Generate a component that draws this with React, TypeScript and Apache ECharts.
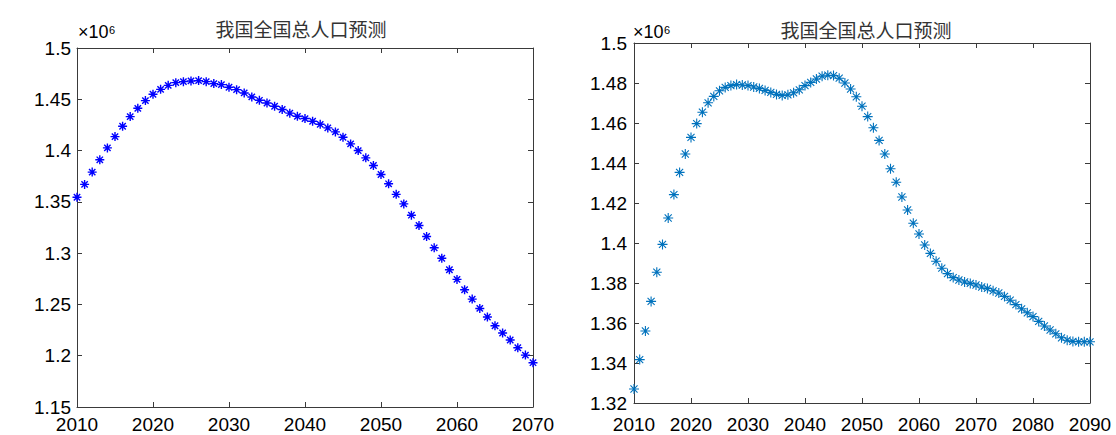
import React, { useEffect, useRef } from "react";
import * as echarts from "echarts";

const TITLE = "我国全国总人口预测";
const SCALE_BASE = "×10";
const SCALE_EXP = "6";

// left panel: yearly values (×10^6), starting 2010
const LEFT_START_YEAR = 2010;
const LEFT_VALUES = [
  1.3545, 1.367, 1.379, 1.391, 1.4026, 1.4136, 1.4237, 1.4331, 1.4412, 1.4487,
  1.4549, 1.4597, 1.4636, 1.4662, 1.4672, 1.4679, 1.4682, 1.4672, 1.4653, 1.4643,
  1.4617, 1.4594, 1.4562, 1.4523, 1.449, 1.4464, 1.4432, 1.44, 1.4365, 1.4334,
  1.4312, 1.4286, 1.4256, 1.4221, 1.4182, 1.413, 1.4065, 1.4, 1.3929, 1.3854,
  1.3767, 1.3676, 1.3573, 1.348, 1.337, 1.327, 1.3162, 1.3052, 1.295, 1.2838,
  1.2744, 1.2643, 1.2552, 1.2461, 1.2377, 1.2292, 1.2221, 1.2153, 1.2078, 1.2006,
  1.1932,
];

// right panel: yearly values (×10^6), starting 2010
const RIGHT_START_YEAR = 2010;
const RIGHT_VALUES = [
  1.327, 1.3417, 1.356, 1.3708, 1.3854, 1.3993, 1.4125, 1.4242, 1.4353, 1.4445,
  1.4528, 1.4597, 1.4654, 1.4701, 1.4733, 1.4761, 1.4778, 1.4787, 1.4792, 1.479,
  1.4787, 1.478, 1.4773, 1.4763, 1.4753, 1.4743, 1.4738, 1.4741, 1.4751, 1.4766,
  1.4787, 1.4803, 1.482, 1.4834, 1.4839, 1.4837, 1.4824, 1.48, 1.477, 1.4731,
  1.4684, 1.4632, 1.4576, 1.4513, 1.4445, 1.4371, 1.4304, 1.423, 1.4165, 1.4099,
  1.4045, 1.399, 1.3948, 1.3909, 1.3874, 1.3847, 1.3827, 1.3815, 1.3805, 1.3798,
  1.379, 1.378, 1.3773, 1.3761, 1.375, 1.3733, 1.3714, 1.3692, 1.3671, 1.3651,
  1.3632, 1.3608, 1.3585, 1.3565, 1.3546, 1.3526, 1.3514, 1.3508, 1.3506, 1.3506,
  1.3506,
];

const LEFT_X_TICKS = { min: 2010, max: 2070, interval: 10 };
const LEFT_Y_TICKS = { min: 1.15, max: 1.5, interval: 0.05 };
const RIGHT_X_TICKS = { min: 2010, max: 2090, interval: 10 };
const RIGHT_Y_TICKS = { min: 1.32, max: 1.5, interval: 0.02 };

const ASTERISK =
  "path://M0 -10L0 10M-10 0L10 0M-7.07 -7.07L7.07 7.07M-7.07 7.07L7.07 -7.07";

const FONT = "'Liberation Sans', Arial, sans-serif";
const AXIS_COLOR = "#3a3a3a";

function axisPair(gridIndex: number, x: any, y: any, xMargin: number, yMargin: number) {
  const line = { show: true, lineStyle: { color: AXIS_COLOR, width: 1 } };
  const tick = { show: true, inside: true, length: 5, lineStyle: { color: AXIS_COLOR, width: 1 } };
  const fmtY = (v: number) => String(parseFloat(v.toFixed(2)));
  const fmtX = (v: number) => String(Math.round(v));
  const xAxes = [
    {
      type: "value", gridIndex, position: "bottom", ...x,
      axisLine: line, axisTick: tick, splitLine: { show: false },
      axisLabel: { color: "#000", fontSize: 19, fontFamily: FONT, margin: xMargin, formatter: fmtX },
    },
    {
      type: "value", gridIndex, position: "top", ...x,
      axisLine: line, axisTick: tick, splitLine: { show: false },
      axisLabel: { show: false },
    },
  ];
  const yAxes = [
    {
      type: "value", gridIndex, position: "left", ...y,
      axisLine: line, axisTick: tick, splitLine: { show: false },
      axisLabel: { color: "#000", fontSize: 19, fontFamily: FONT, margin: yMargin, formatter: fmtY },
    },
    {
      type: "value", gridIndex, position: "right", ...y,
      axisLine: line, axisTick: tick, splitLine: { show: false },
      axisLabel: { show: false },
    },
  ];
  return { xAxes, yAxes };
}

export default function App() {
  const ref = useRef<HTMLDivElement>(null);

  useEffect(() => {
    if (!ref.current) return;
    const chart = echarts.init(ref.current, null, { renderer: "svg" });

    const L = axisPair(0, LEFT_X_TICKS, LEFT_Y_TICKS, 8, 6);
    const R = axisPair(1, RIGHT_X_TICKS, RIGHT_Y_TICKS, 12, 7);

    const leftData = LEFT_VALUES.map((v, i) => [LEFT_START_YEAR + i, v]);
    const rightData = RIGHT_VALUES.map((v, i) => [RIGHT_START_YEAR + i, v]);

    const scaleText = (x: number, baseline: number) => [
      {
        type: "text", x, y: baseline,
        style: { text: SCALE_BASE, font: `18px ${FONT}`, fill: "#000", align: "left", verticalAlign: "bottom" },
      },
      {
        type: "text", x: x + 31, y: baseline - 6,
        style: { text: SCALE_EXP, font: `11px ${FONT}`, fill: "#000", align: "left", verticalAlign: "bottom" },
      },
    ];

    chart.setOption({
      animation: false,
      backgroundColor: "#fff",
      grid: [
        { left: 77, top: 48, width: 456, height: 359 },
        { left: 634, top: 43, width: 456, height: 360 },
      ],
      xAxis: [...L.xAxes, ...R.xAxes],
      yAxis: [...L.yAxes, ...R.yAxes],
      graphic: [
        {
          type: "text", x: 301, y: 28,
          style: {
            text: TITLE, font: "19px 'Noto Sans CJK SC', sans-serif", fill: "#333",
            align: "center", verticalAlign: "middle",
          },
        },
        {
          type: "text", x: 866, y: 29,
          style: {
            text: TITLE, font: "19px 'Noto Sans CJK SC', sans-serif", fill: "#333",
            align: "center", verticalAlign: "middle",
          },
        },
        ...scaleText(78, 41),
        ...scaleText(633, 41),
      ],
      series: [
        {
          type: "scatter", xAxisIndex: 0, yAxisIndex: 0, data: leftData,
          symbol: ASTERISK, symbolSize: 9,
          itemStyle: { color: "rgba(0,0,0,0)", borderColor: "#0000ff", borderWidth: 1.4, opacity: 1 },
        },
        {
          type: "scatter", xAxisIndex: 2, yAxisIndex: 2, data: rightData,
          symbol: ASTERISK, symbolSize: 10,
          itemStyle: { color: "rgba(0,0,0,0)", borderColor: "#0072bd", borderWidth: 1.1, opacity: 1 },
        },
      ],
    });

    return () => chart.dispose();
  }, []);

  return (
    <div
      ref={ref}
      style={{ position: "fixed", left: 0, top: 0, width: 1116, height: 435 }}
    />
  );
}
